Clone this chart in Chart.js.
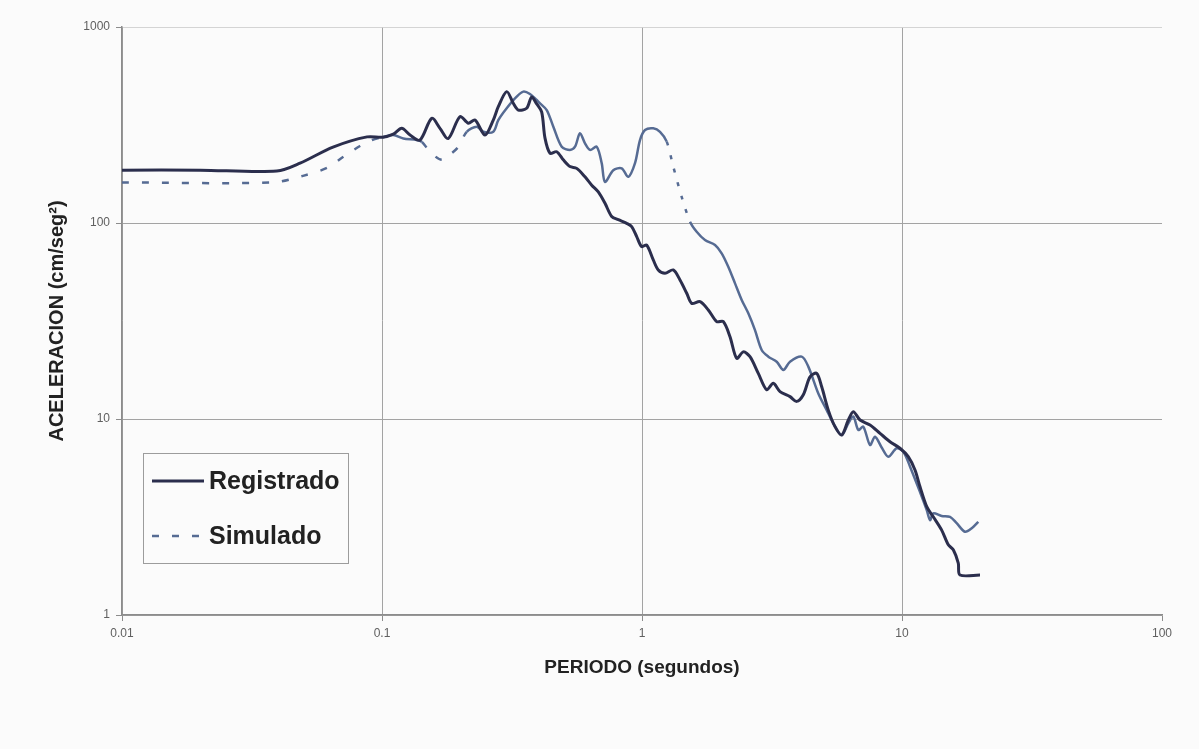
<!DOCTYPE html>
<html lang="es">
<head>
<meta charset="utf-8">
<title>Espectro de aceleración: registrado y simulado</title>
<script src="https://cdn.jsdelivr.net/npm/chart.js@4.4.1/dist/chart.umd.min.js"></script>
<style>
  html, body { margin: 0; padding: 0; background: #fbfbfb; }
  #marco { position: relative; width: 1199px; height: 749px; }
  #grafico { display: block; }
</style>
</head>
<body>
<div id="marco"><canvas id="grafico" width="1199" height="749"></canvas></div>
<script>
// Ejes logarítmicos: solo décadas
const periodoTicks = [0.01, 0.1, 1, 10, 100];
const periodoTickLabels = ['0.01', '0.1', '1', '10', '100'];
const aceleracionTicks = [1, 10, 100, 1000];
const aceleracionTickLabels = ['1', '10', '100', '1000'];

// Espectro registrado: periodo (s) y aceleración (cm/seg²)
const registradoPeriodo = [
  0.01, 0.02, 0.0394, 0.0484, 0.0648, 0.0876, 0.1006, 0.1105, 0.1191, 0.1282,
  0.1400, 0.1553, 0.1671, 0.1799, 0.1995, 0.2147, 0.2279, 0.2490, 0.2679, 0.2801,
  0.3017, 0.3199, 0.3344, 0.3600, 0.3764, 0.3936, 0.4114, 0.4236, 0.4428, 0.4698,
  0.4981, 0.5285, 0.5608, 0.6036, 0.6406, 0.6791, 0.7207, 0.7647, 0.8107, 0.8733,
  0.9128, 0.9541, 0.9972, 1.042, 1.105, 1.155, 1.226, 1.319, 1.400, 1.486,
  1.553, 1.672, 1.799, 1.938, 2.054, 2.180, 2.313, 2.453, 2.602, 2.801,
  3.017, 3.199, 3.395, 3.709, 3.936, 4.173, 4.429, 4.698, 4.911, 5.206,
  5.524, 5.864, 6.217, 6.498, 6.896, 7.533, 8.230, 8.992, 9.824, 10.57,
  11.22, 11.73, 12.45, 13.19, 14.21, 15.07, 15.75, 16.46, 16.71, 19.95
];
const registradoAceleracion = [
  186, 186, 184, 202, 244, 275, 274, 284, 304, 281,
  265, 342, 304, 270, 349, 323, 335, 281, 335, 392,
  468, 408, 377, 385, 439, 405, 368, 271, 227, 231,
  210, 194, 190, 172, 156, 144, 126, 108, 104, 99.6,
  95.8, 85.2, 75.7, 77.2, 64.8, 57.6, 55.4, 57.6, 51.2, 43.8,
  38.9, 39.7, 36.0, 31.4, 31.4, 26.3, 20.4, 22.0, 20.8, 17.1,
  14.1, 15.2, 13.8, 13.0, 12.3, 13.3, 16.4, 17.1, 14.6, 11.1,
  9.14, 8.28, 9.88, 10.9, 9.88, 9.32, 8.45, 7.66, 7.09, 6.42,
  5.49, 4.51, 3.57, 3.17, 2.71, 2.28, 2.15, 1.84, 1.60, 1.60
];

// Espectro simulado
const simuladoPeriodo = [
  0.01, 0.0381, 0.0497, 0.0614, 0.0708, 0.0823, 0.0915, 0.1006, 0.1105, 0.1208,
  0.1360, 0.1425, 0.1530, 0.1697, 0.1853, 0.1966, 0.2118, 0.2312, 0.2452, 0.2679,
  0.2801, 0.3017, 0.3296, 0.3497, 0.3708, 0.3936, 0.4052, 0.4301, 0.4560, 0.4912,
  0.5285, 0.5525, 0.5774, 0.6036, 0.6310, 0.6695, 0.6998, 0.7207, 0.7756, 0.8353,
  0.8857, 0.9399, 0.9824, 1.027, 1.105, 1.173, 1.245, 1.319, 1.421, 1.530,
  1.623, 1.747, 1.909, 2.025, 2.147, 2.279, 2.418, 2.564, 2.720, 2.886,
  3.061, 3.296, 3.497, 3.709, 4.114, 4.362, 4.766, 5.133, 5.442, 5.864,
  6.217, 6.498, 6.792, 7.099, 7.533, 7.874, 8.375, 8.859, 9.541, 10.12,
  10.74, 11.73, 12.45, 12.82, 13.19, 14.21, 15.30, 16.23, 17.47, 18.54,
  19.66
];
const simuladoAceleracion = [
  161, 161, 174, 191, 217, 247, 265, 274, 281, 270,
  265, 259, 231, 210, 227, 245, 292, 310, 292, 292,
  335, 385, 441, 468, 455, 424, 408, 377, 310, 245,
  236, 245, 287, 255, 236, 245, 202, 162, 186, 190,
  172, 202, 265, 298, 304, 292, 260, 194, 136, 101.6,
  90.3, 81.9, 77.2, 70.0, 59.8, 49.2, 40.5, 34.6, 28.4, 22.5,
  20.8, 19.6, 17.8, 19.6, 20.8, 18.5, 13.5, 11.1, 9.51, 8.28,
  9.51, 10.3, 8.79, 9.14, 7.37, 8.12, 7.11, 6.42, 7.09, 6.81,
  5.71, 4.24, 3.43, 3.05, 3.30, 3.20, 3.17, 2.94, 2.66, 2.77,
  2.99
];

// Tramos del simulado que se trazan discontinuos: [desde, hasta, patrón]
const trazoGuion = [7, 13];
const trazoPunto = [4, 10];
const simuladoTramosDiscontinuos = [
  [0.01, 0.101, trazoGuion],
  [0.142, 0.212, trazoGuion],
  [1.24, 1.531, trazoPunto]
];

const colorRegistrado = '#2b2e4d';
const colorSimulado = '#566b93';
const colorRejilla = '#a3a3a3';
const colorEje = '#8c8c8c';
const fuente = '"Liberation Sans", Arial, Helvetica, sans-serif';

const aPuntos = (xs, ys) => xs.map((x, i) => ({ x: x, y: ys[i] }));

function trazoSimulado(ctx) {
  const a = ctx.p0.parsed.x, b = ctx.p1.parsed.x;
  for (const [desde, hasta, patron] of simuladoTramosDiscontinuos) {
    if (a >= desde && b <= hasta) return patron;
  }
  return undefined;
}

// Recuadro de leyenda dentro del área de trazado, abajo a la izquierda
const leyendaRecuadro = {
  id: 'leyendaRecuadro',
  afterDraw(chart) {
    const { ctx, chartArea } = chart;
    const x0 = chartArea.left + 21;
    const y0 = chartArea.bottom - 162;
    const ancho = 205, alto = 110;
    ctx.save();
    ctx.fillStyle = '#fbfbfb';
    ctx.fillRect(x0, y0, ancho, alto);
    ctx.strokeStyle = '#9c9c9c';
    ctx.lineWidth = 1;
    ctx.strokeRect(x0 + 0.5, y0 + 0.5, ancho, alto);
    chart.data.datasets.forEach((ds, i) => {
      const y = y0 + 28 + i * 55;
      ctx.beginPath();
      ctx.setLineDash(ds.muestraTrazo || []);
      ctx.strokeStyle = ds.borderColor;
      ctx.lineWidth = ds.borderWidth;
      ctx.moveTo(x0 + 9, y);
      ctx.lineTo(x0 + 61, y);
      ctx.stroke();
      ctx.setLineDash([]);
      ctx.fillStyle = '#222';
      ctx.font = 'bold 25px ' + fuente;
      ctx.textBaseline = 'middle';
      ctx.textAlign = 'left';
      ctx.fillText(ds.label, x0 + 66, y + 1);
    });
    ctx.restore();
  }
};

const chart = new Chart(document.getElementById('grafico'), {
  type: 'line',
  data: {
    datasets: [
      {
        label: 'Registrado',
        data: aPuntos(registradoPeriodo, registradoAceleracion),
        borderColor: colorRegistrado,
        borderWidth: 3,
        pointRadius: 0,
        tension: 0.3,
        fill: false
      },
      {
        label: 'Simulado',
        data: aPuntos(simuladoPeriodo, simuladoAceleracion),
        borderColor: colorSimulado,
        borderWidth: 2.5,
        pointRadius: 0,
        tension: 0.3,
        fill: false,
        muestraTrazo: trazoGuion,
        segment: { borderDash: trazoSimulado }
      }
    ]
  },
  options: {
    responsive: false,
    animation: false,
    devicePixelRatio: 1,
    layout: { padding: { top: 27, right: 37, bottom: 0, left: 0 } },
    plugins: {
      legend: { display: false },
      tooltip: { enabled: false },
      title: { display: false }
    },
    scales: {
      x: {
        type: 'logarithmic',
        min: 0.01,
        max: 100,
        afterBuildTicks: (scale) => { scale.ticks = periodoTicks.map(v => ({ value: v })); },
        afterFit: (scale) => { scale.height = 134; },
        ticks: {
          autoSkip: false,
          maxRotation: 0,
          padding: 5,
          color: '#606060',
          font: { family: fuente, size: 12 },
          callback: (v) => {
            const i = periodoTicks.indexOf(v);
            return i >= 0 ? periodoTickLabels[i] : '';
          }
        },
        grid: {
          color: (c) => (c.tick && c.tick.value === 100 ? 'rgba(0,0,0,0)' : colorRejilla),
          tickColor: colorEje,
          tickLength: 6,
          lineWidth: 1
        },
        border: { color: colorEje, width: 1.5 },
        title: {
          display: true,
          text: 'PERIODO (segundos)',
          color: '#222',
          font: { family: fuente, size: 19, weight: 'bold', lineHeight: 1.2 },
          padding: { top: 0, bottom: 70 }
        }
      },
      y: {
        type: 'logarithmic',
        min: 1,
        max: 1000,
        afterBuildTicks: (scale) => { scale.ticks = aceleracionTicks.map(v => ({ value: v })); },
        afterFit: (scale) => { scale.width = 122; },
        ticks: {
          autoSkip: false,
          padding: 6,
          color: '#606060',
          font: { family: fuente, size: 12 },
          callback: (v) => {
            const i = aceleracionTicks.indexOf(v);
            return i >= 0 ? aceleracionTickLabels[i] : '';
          }
        },
        grid: {
          color: (c) => (c.tick && c.tick.value === 1000 ? '#d4d4d4' : colorRejilla),
          tickColor: colorEje,
          tickLength: 6,
          lineWidth: 1
        },
        border: { color: colorEje, width: 1.5 },
        title: {
          display: true,
          text: 'ACELERACION (cm/seg²)',
          color: '#222',
          font: { family: fuente, size: 20, weight: 'bold', lineHeight: 1.2 },
          padding: { top: 45, bottom: 0 }
        }
      }
    }
  },
  plugins: [leyendaRecuadro]
});
</script>
</body>
</html>
